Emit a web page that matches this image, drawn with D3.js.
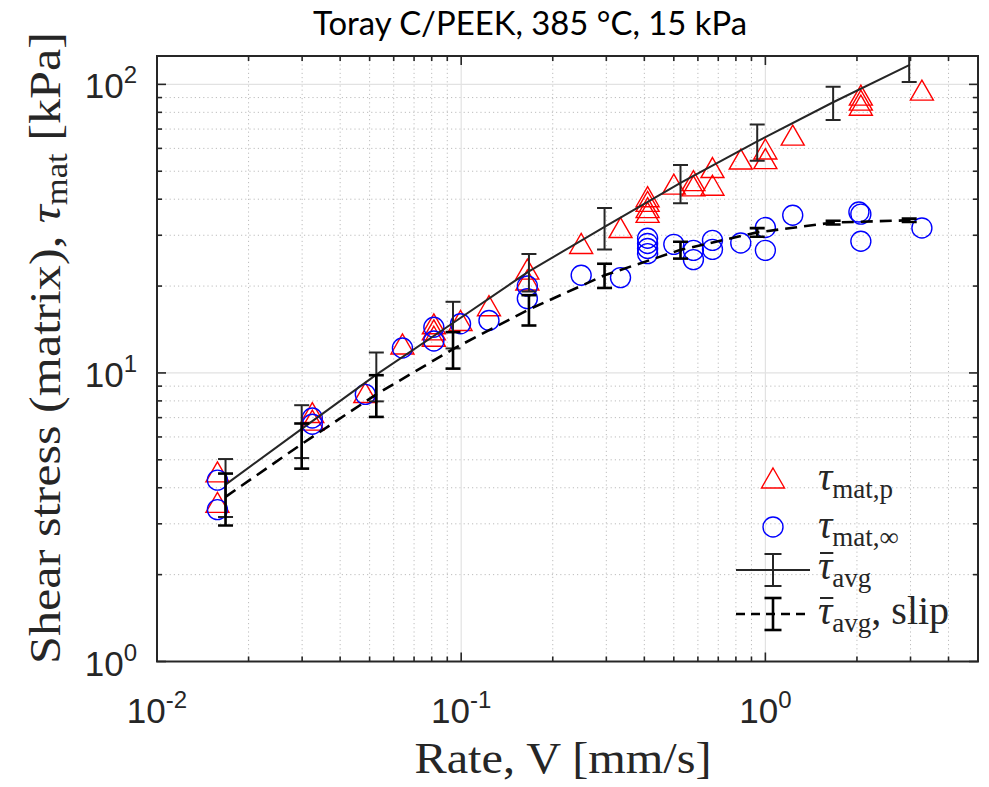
<!DOCTYPE html>
<html>
<head>
<meta charset="utf-8">
<script src="https://cdn.jsdelivr.net/npm/d3@7/dist/d3.min.js"></script>
<style>
html,body{margin:0;padding:0;background:#fff;}
svg{display:block;}
</style>
</head>
<body>
<svg id="chart" width="989" height="787"></svg>
<script>
// ---------------- data ----------------
const titleText = "Toray C/PEEK, 385 °C, 15 kPa";
const xTickValues = [0.01, 0.1, 1];
const xTickExps = ["-2", "-1", "0"];
const yTickValues = [1, 10, 100];
const yTickExps = ["0", "1", "2"];

// tau_mat,p (red triangles)
const triX = [0.0158, 0.0158, 0.0324, 0.0324, 0.0484, 0.0641, 0.0813, 0.0813, 0.0813, 0.0995, 0.1234,
  0.165, 0.165, 0.248, 0.334, 0.41, 0.41, 0.41, 0.41, 0.50, 0.58, 0.58, 0.67, 0.67, 0.83,
  1.0, 1.0, 1.23, 2.06, 2.06, 2.06, 3.27];
const triY = [4.54, 3.56, 7.29, 6.86, 8.55, 12.6, 14.8, 14.1, 13.4, 15.2, 17.1,
  22.9, 21.0, 28.1, 31.9, 40.8, 39.3, 37.4, 36.0, 45.1, 46.4, 44.5, 51.5, 44.7, 55.1,
  59.7, 55.3, 66.7, 91.8, 88.2, 84.7, 95.5];

// tau_mat,inf (blue circles)
const cirX = [0.0158, 0.0158, 0.0324, 0.0324, 0.0484, 0.0641, 0.0813, 0.0813, 0.0995, 0.1234,
  0.165, 0.165, 0.248, 0.334, 0.41, 0.41, 0.41, 0.41, 0.50, 0.58, 0.58, 0.67, 0.67, 0.83,
  1.0, 1.0, 1.23, 2.03, 2.06, 2.06, 3.27];
const cirY = [4.25, 3.36, 6.98, 6.64, 8.43, 12.2, 14.4, 12.9, 14.8, 15.2,
  20.0, 18.1, 21.8, 21.4, 29.3, 28.1, 27.0, 25.9, 27.9, 26.6, 24.7, 28.8, 26.8, 28.2,
  31.9, 26.6, 35.2, 36.1, 35.5, 28.6, 31.8];

// averaged values with error bars
const avgX = [0.0168, 0.0299, 0.0526, 0.094, 0.167, 0.296, 0.526, 0.94, 1.67, 2.97];
const avgMean = [4.1, 6.4, 9.87, 14.9, 22.5, 32.05, 45.6, 63.5, 86.7, 116.6];
const avgErr = [0.93, 1.33, 1.9, 2.74, 3.35, 5.25, 6.9, 9.1, 11.5, 14.6];
const slipMean = [3.72, 5.67, 8.43, 12.1, 16.6, 21.8, 26.7, 30.7, 33.2, 33.8];
const slipErr = [0.76, 1.01, 1.39, 1.75, 2.0, 2.1, 1.8, 1.05, 0.5, 0.45];

// ---------------- layout ----------------
const L = 157, R = 978, T = 56, B = 661.5;
const svg = d3.select("#chart");
const x = d3.scaleLog().domain([0.01, 5]).range([L, R]);
const y = d3.scaleLog().domain([1, 125.4]).range([B, T]);
const axisColor = "#262626";

// minor tick values
function minors(decades, max) {
  const out = [];
  decades.forEach(d => { for (let k = 2; k <= 9; k++) { const v = k * d; if (v <= max * 1.0001) out.push(v); } });
  return out;
}
const xMinor = minors([0.01, 0.1, 1], 5).filter(v => v < 5);
const yMinor = minors([1, 10, 100], 125.4);

// clip
svg.append("defs").append("clipPath").attr("id", "plotclip")
  .append("rect").attr("x", L).attr("y", T).attr("width", R - L).attr("height", B - T);

// grid
const grid = svg.append("g");
grid.selectAll(".gxm").data(xMinor).join("line")
  .attr("x1", d => x(d)).attr("x2", d => x(d)).attr("y1", T).attr("y2", B)
  .attr("stroke", "#bdbdbd").attr("stroke-width", 1).attr("stroke-dasharray", "1.2,3");
grid.selectAll(".gym").data(yMinor).join("line")
  .attr("y1", d => y(d)).attr("y2", d => y(d)).attr("x1", L).attr("x2", R)
  .attr("stroke", "#bdbdbd").attr("stroke-width", 1).attr("stroke-dasharray", "1.2,3");
grid.selectAll(".gxM").data(xTickValues).join("line")
  .attr("x1", d => x(d)).attr("x2", d => x(d)).attr("y1", T).attr("y2", B)
  .attr("stroke", "#e2e2e2").attr("stroke-width", 1.2);
grid.selectAll(".gyM").data(yTickValues).join("line")
  .attr("y1", d => y(d)).attr("y2", d => y(d)).attr("x1", L).attr("x2", R)
  .attr("stroke", "#e2e2e2").attr("stroke-width", 1.2);

const plot = svg.append("g").attr("clip-path", "url(#plotclip)");

// scatter
const tw = 23, th = 20;
const triPath = `M0,${-th/2}L${tw/2},${th/2}L${-tw/2},${th/2}Z`;
plot.selectAll(".tri").data(d3.range(triX.length)).join("path")
  .attr("d", triPath)
  .attr("transform", i => `translate(${x(triX[i])},${y(triY[i])})`)
  .attr("fill", "none").attr("stroke", "#ff0000").attr("stroke-width", 1.4);
plot.selectAll(".cir").data(d3.range(cirX.length)).join("circle")
  .attr("cx", i => x(cirX[i])).attr("cy", i => y(cirY[i])).attr("r", 10)
  .attr("fill", "none").attr("stroke", "#0000ff").attr("stroke-width", 1.4);

// error bar series
function errSeries(g, xs, ms, es, color, width, dash) {
  const line = d3.line().x(i => x(xs[i])).y(i => y(ms[i]));
  g.append("path").attr("d", line(d3.range(xs.length)))
    .attr("fill", "none").attr("stroke", color).attr("stroke-width", width)
    .attr("stroke-dasharray", dash || null);
  const cap = 7.5;
  xs.forEach((xv, i) => {
    const x0 = x(xv), yt = y(ms[i] + es[i]), yb = y(ms[i] - es[i]);
    g.append("line").attr("x1", x0).attr("x2", x0).attr("y1", yt).attr("y2", yb)
      .attr("stroke", color).attr("stroke-width", width);
    [yt, yb].forEach(yy => g.append("line").attr("x1", x0 - cap).attr("x2", x0 + cap)
      .attr("y1", yy).attr("y2", yy).attr("stroke", color).attr("stroke-width", width));
  });
}
errSeries(plot.append("g"), avgX, avgMean, avgErr, "#262626", 2, null);
errSeries(plot.append("g"), avgX, slipMean, slipErr, "#000000", 2.6, "12,7");

// axes box + ticks
const ax = svg.append("g").attr("stroke", axisColor).attr("fill", "none");
ax.append("rect").attr("x", L).attr("y", T).attr("width", R - L).attr("height", B - T)
  .attr("stroke-width", 2);
function xticks(vals, len) {
  vals.forEach(v => {
    ax.append("line").attr("x1", x(v)).attr("x2", x(v)).attr("y1", B).attr("y2", B - len).attr("stroke-width", 1.6);
    ax.append("line").attr("x1", x(v)).attr("x2", x(v)).attr("y1", T).attr("y2", T + len).attr("stroke-width", 1.6);
  });
}
function yticks(vals, len) {
  vals.forEach(v => {
    ax.append("line").attr("y1", y(v)).attr("y2", y(v)).attr("x1", L).attr("x2", L + len).attr("stroke-width", 1.6);
    ax.append("line").attr("y1", y(v)).attr("y2", y(v)).attr("x1", R).attr("x2", R - len).attr("stroke-width", 1.6);
  });
}
xticks(xMinor, 5); xticks(xTickValues, 9);
yticks(yMinor, 5); yticks(yTickValues, 9);

// tick labels
const tickFont = "'Liberation Sans', Arial, sans-serif";
xTickValues.forEach((v, i) => {
  const t = svg.append("text").attr("x", x(v)).attr("y", 723)
    .attr("text-anchor", "middle").attr("font-family", tickFont).attr("font-size", 35).attr("fill", axisColor);
  t.append("tspan").text("10");
  t.append("tspan").attr("dy", -15).attr("font-size", 24).text(xTickExps[i]);
});
yTickValues.forEach((v, i) => {
  const t = svg.append("text").attr("x", 137).attr("y", y(v) + 14)
    .attr("text-anchor", "end").attr("font-family", tickFont).attr("font-size", 35).attr("fill", axisColor);
  t.append("tspan").text("10");
  t.append("tspan").attr("dy", -15).attr("font-size", 24).text(yTickExps[i]);
});

// axis labels
const serif = "'Liberation Serif', 'Times New Roman', serif";
svg.append("text").attr("x", 563).attr("y", 773)
  .attr("text-anchor", "middle").attr("font-family", serif).attr("font-size", 45).attr("fill", axisColor)
  .attr("textLength", 297).attr("lengthAdjust", "spacingAndGlyphs")
  .text("Rate, V [mm/s]");

const yl = svg.append("text").attr("transform", "translate(60,348) rotate(-90)")
  .attr("text-anchor", "middle").attr("font-family", serif).attr("font-size", 45).attr("fill", axisColor)
  .attr("textLength", 632).attr("lengthAdjust", "spacingAndGlyphs");
yl.append("tspan").text("Shear stress (matrix), ");
yl.append("tspan").attr("font-style", "italic").text("τ");
yl.append("tspan").attr("font-size", 31).attr("dy", 7).text("mat");
yl.append("tspan").attr("dy", -7).text(" [kPa]");

// title
svg.append("text").attr("x", 530).attr("y", 35).attr("text-anchor", "middle")
  .attr("font-family", "Lato, 'Open Sans', sans-serif").attr("font-size", 32).attr("fill", "#000")
  .attr("textLength", 434).attr("lengthAdjust", "spacingAndGlyphs")
  .text(titleText);

// legend
const lg = svg.append("g");
const lx = 773, tx = 818;
const rows = [478, 527, 570, 614];
lg.append("path").attr("d", triPath).attr("transform", `translate(${lx},${rows[0]})`)
  .attr("fill", "none").attr("stroke", "#ff0000").attr("stroke-width", 1.4);
lg.append("circle").attr("cx", lx).attr("cy", rows[1]).attr("r", 10)
  .attr("fill", "none").attr("stroke", "#0000ff").attr("stroke-width", 1.4);
function legErr(yy, color, width, dash) {
  lg.append("line").attr("x1", 736).attr("x2", 810).attr("y1", yy).attr("y2", yy)
    .attr("stroke", color).attr("stroke-width", width).attr("stroke-dasharray", dash || null);
  lg.append("line").attr("x1", lx).attr("x2", lx).attr("y1", yy - 16).attr("y2", yy + 16)
    .attr("stroke", color).attr("stroke-width", width);
  [yy - 16, yy + 16].forEach(v => lg.append("line").attr("x1", lx - 8.5).attr("x2", lx + 8.5)
    .attr("y1", v).attr("y2", v).attr("stroke", color).attr("stroke-width", width));
}
legErr(rows[2], "#262626", 2, null);
legErr(rows[3], "#000000", 2.6, "9,6");

function legText(yy, sub, extra, bar) {
  const t = lg.append("text").attr("x", tx).attr("y", yy).attr("font-family", serif)
    .attr("font-size", 40).attr("fill", axisColor);
  t.append("tspan").attr("font-style", "italic").text("τ");
  t.append("tspan").attr("font-size", 27).attr("dy", 8).text(sub);
  if (extra) t.append("tspan").attr("dy", -8).text(extra);
  if (bar) {
    const cw = t.node().getExtentOfChar(0);
    lg.append("line").attr("x1", cw.x + 2).attr("x2", cw.x + cw.width + 1)
      .attr("y1", yy - 26).attr("y2", yy - 26).attr("stroke", axisColor).attr("stroke-width", 2);
  }
}
legText(490, "mat,p", null, false);
legText(538, "mat,∞", null, false);
legText(579, "avg", null, true);
legText(624, "avg", ", slip", true);
</script>
</body>
</html>
